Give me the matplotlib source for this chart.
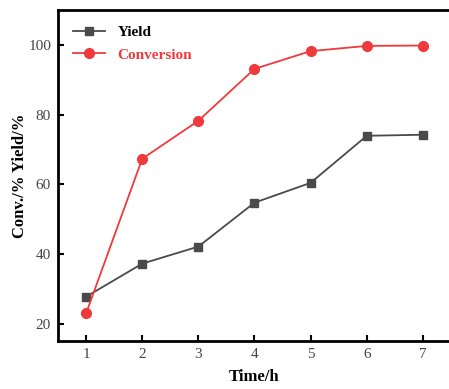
import matplotlib
matplotlib.use("Agg")
from matplotlib import pyplot as plt

time_h = [1, 2, 3, 4, 5, 6, 7]
yield_pct = [27.7, 37.2, 42.1, 54.7, 60.4, 73.9, 74.2]
conversion_pct = [22.9, 67.3, 78.2, 93.1, 98.2, 99.7, 99.8]
x_ticks = [1, 2, 3, 4, 5, 6, 7]
y_ticks = [20, 40, 60, 80, 100]

plt.rcParams['font.family'] = ['Liberation Serif', 'DejaVu Serif']

fig = plt.figure(figsize=(4.49, 3.89), dpi=100)
ax = fig.add_axes([58/449, 48/389, 393/449, 331/389])

yc = '#4a4a4a'
cc = '#f0393c'
ax.plot(time_h, yield_pct, color=yc, marker='s', markersize=6, linewidth=1.3, label='Yield')
ax.plot(time_h, conversion_pct, color=cc, marker='o', markersize=7, linewidth=1.3, label='Conversion')

ax.set_xlim(0.5, 7.5)
ax.set_ylim(15, 110)
ax.set_xticks(x_ticks)
ax.set_yticks(y_ticks)
ax.tick_params(direction='in', length=4, width=1.5, labelsize=11, labelcolor='#444444', pad=5)
for s in ['left', 'bottom', 'top']:
    ax.spines[s].set_linewidth(2)
ax.spines['right'].set_visible(False)

ax.set_xlabel('Time/h', fontsize=12, fontweight='bold', labelpad=6)
ax.set_ylabel('Conv./% Yield/%', fontsize=12, fontweight='bold', labelpad=0)

leg = ax.legend(loc='upper left', frameon=False, prop={'weight': 'bold', 'size': 11},
                handlelength=2.1, borderaxespad=0.5, labelspacing=0.6, borderpad=0.5,
                handletextpad=0.8)
leg.get_texts()[0].set_color('black')
leg.get_texts()[1].set_color(cc)

fig.savefig('out.png', dpi=100)
